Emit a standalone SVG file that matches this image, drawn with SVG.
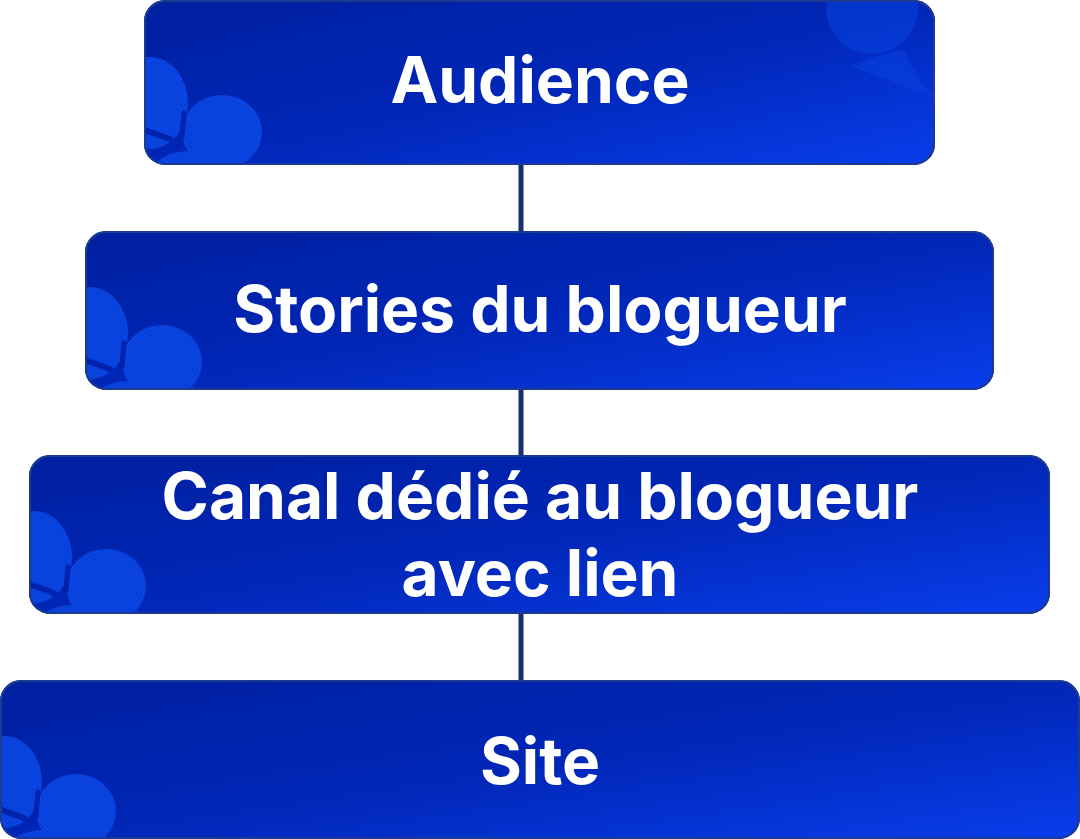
<svg xmlns="http://www.w3.org/2000/svg" width="1080" height="839" viewBox="0 0 1080 839">
<defs>
<linearGradient id="g" x1="0" y1="0" x2="1" y2="1" gradientUnits="objectBoundingBox">
<stop offset="0" stop-color="#0020a2"/>
<stop offset="0.5" stop-color="#0027ba"/>
<stop offset="1" stop-color="#0a40f4"/>
</linearGradient>
<pattern id="dots" width="4" height="4" patternUnits="userSpaceOnUse">
<circle cx="1" cy="1" r="0.8" fill="#001a80" opacity="0.35"/>
<circle cx="3" cy="3" r="0.8" fill="#001a80" opacity="0.35"/>
</pattern>
<clipPath id="c1"><rect x="145" y="1" width="789" height="163" rx="20"/></clipPath>
<clipPath id="c2"><rect x="86" y="232" width="907" height="157" rx="20"/></clipPath>
<clipPath id="c3"><rect x="30" y="456" width="1019" height="157" rx="20"/></clipPath>
<clipPath id="c4"><rect x="1" y="681" width="1078" height="157" rx="20"/></clipPath>
<g id="flower">
<ellipse cx="0" cy="8" rx="38" ry="46" fill="#0a46e6"/>
<ellipse cx="72" cy="37" rx="40" ry="37" fill="#0a46e6"/>
<ellipse cx="40" cy="72" rx="34" ry="16" fill="#0a46e6"/>
<path d="M34 18 L32 42" stroke="#0024b0" stroke-width="5" stroke-linecap="round"/>
<path d="M-8 34 L20 44" stroke="#0024b0" stroke-width="6" stroke-linecap="round"/>
</g>
</defs>
<style>
.box{fill:url(#g);stroke:#1b3a92;stroke-width:2}
.dot{fill:url(#dots)}
.t{font-family:Inter,"Liberation Sans",sans-serif;font-weight:700;font-size:64px;fill:#ffffff;text-anchor:middle}
.ln{stroke:#14306e;stroke-width:5}
.deco{fill:#0a46e8;opacity:0.55}
</style>
<g id="connectors">
<line class="ln" x1="521" y1="164" x2="521" y2="232"/>
<line class="ln" x1="521" y1="389" x2="521" y2="456"/>
<line class="ln" x1="521" y1="613" x2="521" y2="681"/>
</g>
<g id="node1">
<rect class="box" x="145" y="1" width="789" height="163" rx="20"/>
<g clip-path="url(#c1)">
<use href="#flower" x="150" y="95"/>
<circle class="deco" cx="872" cy="8" r="46"/>
<path class="deco" d="M850 66 Q890 50 905 50 Q915 80 935 97 Z"/>
<rect class="dot" x="145" y="1" width="789" height="163"/>
</g>
<rect x="145" y="1" width="789" height="163" rx="20" fill="none" stroke="#1b3a92" stroke-width="2"/>
<text class="t" x="540" y="103">Audience</text>
</g>
<g id="node2">
<rect class="box" x="86" y="232" width="907" height="157" rx="20"/>
<g clip-path="url(#c2)">
<use href="#flower" x="90" y="325"/>
<rect class="dot" x="86" y="232" width="907" height="157"/>
</g>
<rect x="86" y="232" width="907" height="157" rx="20" fill="none" stroke="#1b3a92" stroke-width="2"/>
<text class="t" x="540" y="332">Stories du blogueur</text>
</g>
<g id="node3">
<rect class="box" x="30" y="456" width="1019" height="157" rx="20"/>
<g clip-path="url(#c3)">
<use href="#flower" x="34" y="549"/>
<rect class="dot" x="30" y="456" width="1019" height="157"/>
</g>
<rect x="30" y="456" width="1019" height="157" rx="20" fill="none" stroke="#1b3a92" stroke-width="2"/>
<text class="t" x="540" y="519">Canal dédié au blogueur</text>
<text class="t" x="540" y="596">avec lien</text>
</g>
<g id="node4">
<rect class="box" x="1" y="681" width="1078" height="157" rx="20"/>
<g clip-path="url(#c4)">
<use href="#flower" x="4" y="774"/>
<rect class="dot" x="1" y="681" width="1078" height="157"/>
</g>
<rect x="1" y="681" width="1078" height="157" rx="20" fill="none" stroke="#1b3a92" stroke-width="2"/>
<text class="t" x="540" y="784">Site</text>
</g>
</svg>
